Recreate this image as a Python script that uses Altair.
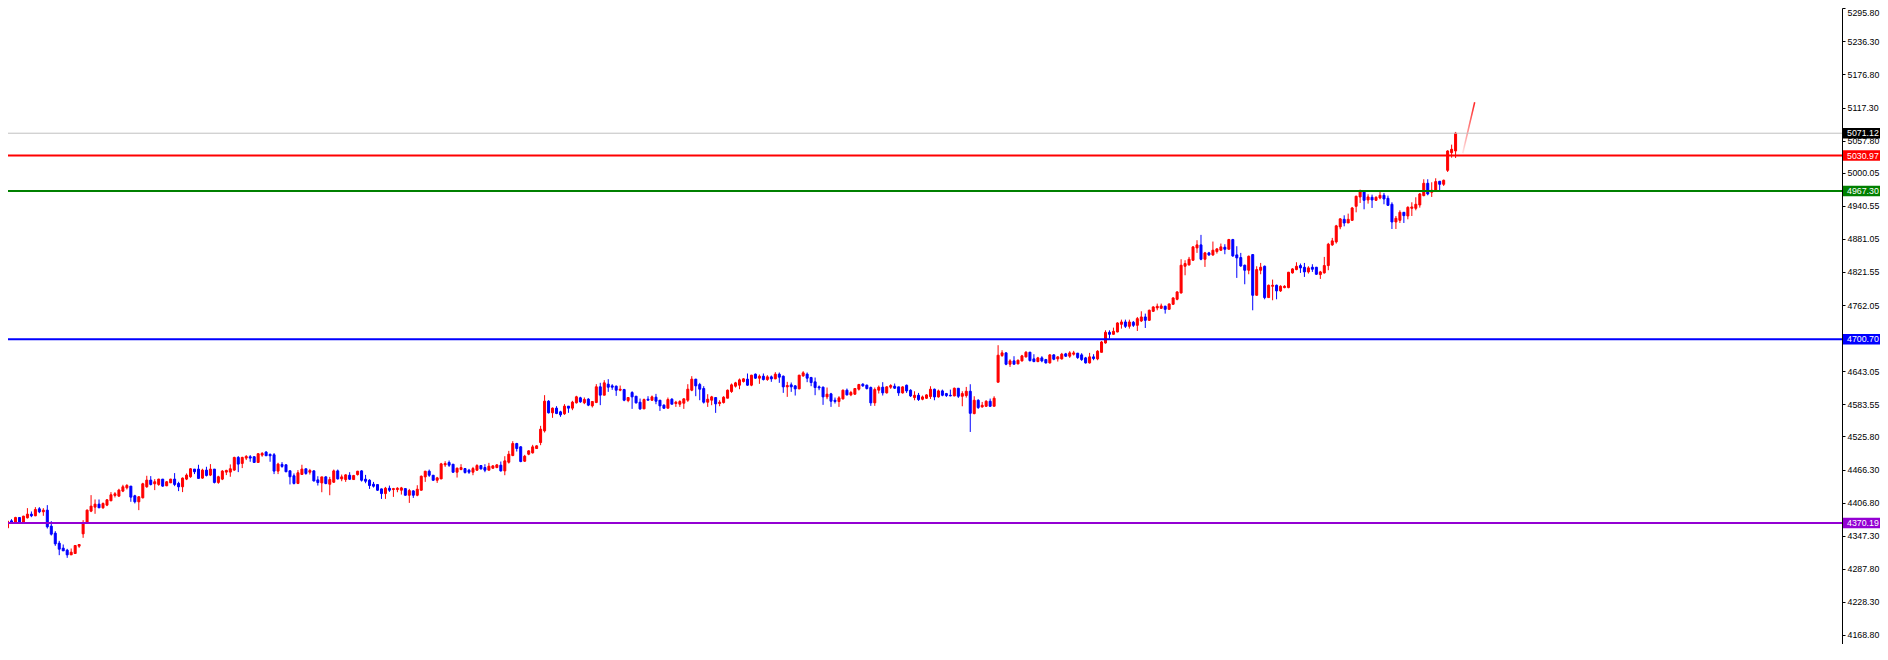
import altair as alt
import pandas as pd
import numpy as np

# ---- candle data ----
opens = [
4361.5, 4374.1, 4371.1, 4380.1, 4371.1, 4379.5, 4386.1, 4383.1, 4395.7, 4390.3,
4393.3, 4364.5, 4351.9, 4333.9, 4324.9, 4321.3, 4312.9, 4315.3, 4328.5, 4350.7,
4370.5, 4391.5, 4398.7, 4404.1, 4397.5, 4402.3, 4410.1, 4419.7, 4418.5, 4427.5,
4433.5, 4436.5, 4419.1, 4408.3, 4415.5, 4435.3, 4447.3, 4440.7, 4439.5, 4449.1,
4437.1, 4442.5, 4449.1, 4441.3, 4435.3, 4449.1, 4453.3, 4467.1, 4467.1, 4450.9,
4465.3, 4456.3, 4467.1, 4443.1, 4449.1, 4461.7, 4461.7, 4465.3, 4488.1, 4477.3,
4486.9, 4489.3, 4489.3, 4479.1, 4492.3, 4497.7, 4493.5, 4492.9, 4463.5, 4475.5,
4474.9, 4464.1, 4455.1, 4441.3, 4457.5, 4467.7, 4461.5, 4463.9, 4447.7, 4442.3,
4453.1, 4439.9, 4443.5, 4463.9, 4449.5, 4448.3, 4456.1, 4448.3, 4457.3, 4463.9,
4448.9, 4447.1, 4439.9, 4439.3, 4431.5, 4423.1, 4432.7, 4430.3, 4430.3, 4429.1,
4432.1, 4420.1, 4427.9, 4420.1, 4429.1, 4453.1, 4463.3, 4456.1, 4447.1, 4449.5,
4474.7, 4478.9, 4475.9, 4461.5, 4466.3, 4468.1, 4465.1, 4461.5, 4465.1, 4473.5,
4469.9, 4465.1, 4468.7, 4469.9, 4474.1, 4463.9, 4479.5, 4491.5, 4513.1, 4507.1,
4481.3, 4493.9, 4496.3, 4504.1, 4514.9, 4535.9, 4589.3, 4568.3, 4576.7, 4570.1,
4566.5, 4580.3, 4576.7, 4586.3, 4595.3, 4586.3, 4592.9, 4580.9, 4586.9, 4615.1,
4600.0, 4619.8, 4616.8, 4616.2, 4609.0, 4610.2, 4590.4, 4604.8, 4598.2, 4587.4,
4575.4, 4592.8, 4591.0, 4596.4, 4591.0, 4582.0, 4576.6, 4592.8, 4585.0, 4583.8,
4585.6, 4591.0, 4609.0, 4628.8, 4619.2, 4612.0, 4587.4, 4591.0, 4595.8, 4585.0,
4586.8, 4594.6, 4606.6, 4616.2, 4618.0, 4624.6, 4628.8, 4618.0, 4637.8, 4630.6,
4634.2, 4628.2, 4633.0, 4629.4, 4637.8, 4634.2, 4615.0, 4618.6, 4616.8, 4611.4,
4634.8, 4637.8, 4631.8, 4624.0, 4615.0, 4614.4, 4597.0, 4602.4, 4591.0, 4588.6,
4593.4, 4609.0, 4600.6, 4601.8, 4610.8, 4619.8, 4618.0, 4613.8, 4586.2, 4609.0,
4614.4, 4604.2, 4614.4, 4616.2, 4615.0, 4604.1, 4617.9, 4608.9, 4595.7, 4599.9,
4592.7, 4594.5, 4597.5, 4610.7, 4596.9, 4607.7, 4602.9, 4599.9, 4598.7, 4612.5,
4598.1, 4599.3, 4607.1, 4566.9, 4590.9, 4578.9, 4580.1, 4589.1, 4580.1, 4623.3,
4671.3, 4676.1, 4655.7, 4661.7, 4656.3, 4661.7, 4668.9, 4677.3, 4665.3, 4660.5,
4667.1, 4664.1, 4658.1, 4672.5, 4665.3, 4665.3, 4674.3, 4670.1, 4673.7, 4675.5,
4672.5, 4667.1, 4658.1, 4668.9, 4665.3, 4677.1, 4693.9, 4713.1, 4709.5, 4713.7,
4727.5, 4731.7, 4723.9, 4731.1, 4725.7, 4733.5, 4740.7, 4734.7, 4750.9, 4756.9,
4756.3, 4759.9, 4754.5, 4763.5, 4772.5, 4783.9, 4831.9, 4834.3, 4842.7, 4864.9,
4870.3, 4844.5, 4855.9, 4852.3, 4858.3, 4860.7, 4866.1, 4862.5, 4879.9, 4852.3,
4847.5, 4833.7, 4824.7, 4852.9, 4779.7, 4824.7, 4831.9, 4775.5, 4795.9, 4797.7,
4787.5, 4793.5, 4793.5, 4819.9, 4825.9, 4833.1, 4830.1, 4821.7, 4830.1, 4830.1,
4816.9, 4819.9, 4833.1, 4870.3, 4875.7, 4902.7, 4916.3, 4909.7, 4914.5, 4939.7,
4956.5, 4965.5, 4951.1, 4955.9, 4950.5, 4954.7, 4959.5, 4954.1, 4943.3, 4911.5,
4914.5, 4928.9, 4922.3, 4936.1, 4936.1, 4942.1, 4958.9, 4981.1, 4964.9, 4967.9,
4984.7, 4979.3, 5004.4, 5036.2, 5039.2]

highs = [
4375.3, 4377.1, 4381.3, 4380.7, 4383.1, 4396.9, 4390.9, 4398.7, 4398.7, 4396.9,
4402.3, 4373.5, 4355.5, 4338.1, 4331.5, 4323.7, 4324.3, 4330.3, 4331.5, 4375.3,
4394.5, 4420.3, 4412.5, 4412.5, 4407.1, 4413.1, 4425.7, 4425.7, 4431.7, 4438.9,
4440.1, 4436.5, 4420.9, 4418.5, 4442.5, 4455.1, 4454.5, 4449.1, 4449.7, 4449.1,
4445.5, 4449.7, 4459.9, 4444.3, 4452.1, 4459.3, 4468.9, 4467.1, 4474.9, 4467.7,
4471.3, 4476.1, 4467.1, 4455.1, 4465.3, 4465.9, 4475.5, 4489.3, 4490.5, 4489.3,
4492.3, 4492.3, 4490.5, 4495.9, 4497.7, 4499.5, 4495.3, 4495.9, 4478.5, 4479.7,
4474.9, 4464.1, 4459.3, 4465.3, 4474.9, 4467.7, 4467.5, 4465.1, 4454.3, 4453.1,
4454.3, 4453.1, 4466.3, 4466.3, 4457.3, 4457.9, 4461.5, 4456.7, 4463.9, 4465.1,
4456.7, 4448.9, 4444.1, 4439.9, 4432.1, 4435.1, 4437.5, 4433.3, 4434.5, 4435.1,
4432.1, 4431.5, 4429.1, 4438.1, 4455.5, 4463.9, 4466.3, 4456.1, 4453.1, 4478.3,
4481.3, 4482.5, 4475.9, 4469.9, 4475.9, 4468.7, 4467.5, 4471.1, 4475.9, 4474.1,
4475.9, 4478.3, 4474.1, 4475.9, 4480.7, 4490.3, 4499.9, 4517.3, 4514.3, 4508.3,
4492.7, 4501.1, 4510.7, 4510.1, 4544.9, 4600.1, 4591.1, 4577.9, 4580.3, 4571.9,
4583.9, 4580.3, 4589.9, 4598.9, 4597.1, 4595.9, 4594.7, 4588.7, 4619.9, 4622.3,
4627.0, 4628.8, 4619.8, 4617.4, 4617.4, 4611.4, 4595.8, 4607.2, 4598.2, 4594.0,
4594.0, 4598.2, 4599.4, 4602.4, 4591.0, 4583.8, 4595.8, 4594.6, 4589.8, 4591.0,
4594.6, 4619.8, 4634.2, 4629.4, 4622.2, 4616.2, 4601.8, 4598.8, 4595.8, 4591.0,
4598.2, 4610.2, 4621.0, 4624.0, 4630.0, 4630.6, 4639.0, 4636.6, 4639.0, 4637.2,
4639.0, 4636.0, 4635.4, 4641.4, 4640.8, 4635.4, 4624.0, 4622.8, 4618.0, 4636.6,
4643.2, 4640.8, 4633.0, 4631.8, 4617.4, 4615.6, 4613.8, 4604.2, 4595.8, 4598.2,
4610.2, 4612.0, 4607.8, 4612.6, 4620.4, 4621.6, 4619.2, 4615.6, 4613.8, 4617.4,
4623.4, 4616.2, 4619.8, 4621.0, 4615.0, 4616.1, 4619.1, 4610.7, 4607.1, 4604.1,
4599.3, 4601.7, 4616.1, 4611.9, 4610.1, 4610.1, 4604.1, 4610.1, 4613.7, 4612.5,
4607.1, 4614.9, 4619.7, 4598.1, 4592.7, 4587.9, 4590.9, 4593.9, 4598.1, 4689.9,
4680.9, 4677.3, 4664.7, 4670.1, 4664.1, 4672.5, 4679.1, 4677.9, 4673.7, 4668.9,
4670.1, 4665.3, 4673.7, 4673.7, 4670.1, 4676.1, 4676.1, 4679.1, 4679.7, 4676.1,
4675.5, 4668.9, 4676.1, 4673.7, 4680.9, 4697.5, 4716.7, 4716.7, 4721.5, 4731.1,
4735.9, 4735.9, 4735.9, 4733.5, 4740.7, 4750.9, 4746.7, 4753.9, 4759.9, 4764.7,
4764.7, 4761.1, 4764.7, 4776.1, 4786.9, 4844.5, 4842.7, 4848.7, 4867.9, 4878.7,
4888.3, 4857.7, 4857.7, 4876.3, 4864.3, 4872.7, 4871.5, 4881.1, 4881.1, 4867.9,
4855.9, 4834.9, 4851.1, 4853.5, 4831.9, 4837.9, 4833.1, 4798.9, 4807.9, 4798.9,
4797.7, 4797.7, 4821.7, 4828.3, 4839.1, 4836.7, 4837.9, 4831.9, 4835.5, 4830.7,
4823.5, 4848.7, 4873.9, 4882.9, 4906.3, 4918.3, 4923.5, 4926.5, 4938.5, 4958.9,
4969.7, 4965.5, 4961.3, 4960.7, 4957.7, 4966.7, 4963.7, 4958.9, 4946.9, 4922.3,
4932.5, 4929.5, 4939.7, 4946.9, 4955.9, 4963.7, 4988.3, 4988.3, 4982.9, 4990.1,
4985.3, 4987.7, 5040.4, 5050.6, 5073.4]

lows = [
4359.7, 4369.9, 4370.5, 4370.5, 4370.5, 4378.3, 4380.7, 4382.5, 4387.9, 4383.1,
4360.3, 4347.7, 4329.1, 4312.3, 4320.1, 4307.5, 4312.9, 4314.7, 4325.5, 4343.5,
4369.3, 4389.7, 4386.7, 4397.5, 4395.7, 4400.5, 4409.5, 4416.1, 4417.3, 4425.7,
4430.5, 4408.3, 4405.3, 4393.3, 4414.3, 4433.5, 4437.7, 4429.3, 4437.1, 4435.3,
4436.5, 4441.9, 4436.5, 4427.5, 4425.7, 4447.3, 4451.5, 4458.1, 4449.7, 4449.7,
4453.9, 4454.5, 4441.3, 4440.7, 4447.3, 4456.3, 4453.3, 4464.1, 4461.7, 4468.9,
4483.3, 4480.3, 4478.5, 4478.5, 4489.3, 4491.1, 4480.3, 4458.1, 4458.1, 4469.5,
4461.7, 4439.5, 4439.5, 4440.1, 4456.9, 4456.9, 4457.3, 4444.7, 4437.5, 4425.5,
4439.9, 4420.1, 4442.3, 4448.3, 4445.3, 4444.1, 4447.7, 4447.7, 4455.5, 4444.7,
4441.7, 4431.5, 4433.9, 4427.9, 4413.5, 4413.5, 4426.1, 4417.1, 4425.5, 4421.3,
4419.5, 4406.3, 4415.3, 4418.3, 4428.5, 4444.1, 4453.1, 4445.9, 4442.3, 4448.9,
4471.1, 4471.1, 4460.3, 4451.9, 4465.1, 4459.1, 4458.5, 4456.1, 4463.9, 4466.3,
4461.5, 4465.1, 4467.5, 4468.7, 4462.7, 4456.1, 4477.1, 4490.3, 4498.7, 4479.5,
4480.1, 4492.1, 4495.1, 4503.5, 4510.1, 4532.9, 4567.1, 4559.3, 4565.9, 4561.1,
4564.7, 4568.3, 4573.1, 4585.1, 4586.3, 4583.9, 4580.3, 4577.9, 4585.7, 4582.1,
4600.0, 4606.0, 4609.6, 4598.8, 4607.2, 4589.2, 4587.4, 4575.4, 4585.0, 4573.6,
4575.4, 4591.0, 4589.8, 4583.8, 4571.8, 4575.4, 4576.6, 4583.8, 4579.0, 4579.0,
4575.4, 4588.0, 4607.2, 4598.2, 4591.0, 4585.0, 4579.0, 4582.0, 4568.2, 4580.2,
4585.0, 4594.6, 4604.2, 4613.8, 4610.8, 4622.8, 4616.8, 4616.2, 4629.4, 4620.4,
4626.4, 4625.8, 4624.0, 4628.8, 4622.2, 4604.2, 4597.0, 4606.0, 4599.4, 4610.8,
4633.0, 4623.4, 4616.2, 4600.0, 4609.0, 4582.6, 4592.8, 4579.0, 4585.0, 4579.0,
4592.2, 4599.4, 4598.2, 4600.6, 4608.4, 4615.0, 4610.2, 4580.8, 4580.8, 4603.0,
4599.4, 4603.0, 4611.4, 4611.4, 4598.8, 4602.9, 4604.1, 4596.9, 4590.9, 4589.7,
4590.9, 4593.3, 4593.3, 4590.9, 4595.7, 4598.1, 4596.9, 4598.1, 4598.1, 4595.1,
4580.1, 4595.7, 4533.9, 4565.7, 4575.3, 4577.7, 4578.9, 4578.9, 4580.1, 4623.3,
4668.9, 4653.9, 4650.9, 4655.7, 4655.7, 4660.5, 4667.7, 4660.5, 4659.3, 4659.3,
4659.3, 4656.9, 4656.9, 4662.9, 4660.5, 4664.1, 4668.9, 4667.1, 4671.3, 4665.3,
4661.7, 4656.9, 4656.9, 4662.9, 4662.9, 4677.1, 4692.7, 4701.7, 4708.9, 4713.1,
4719.7, 4720.9, 4719.7, 4722.7, 4715.5, 4731.7, 4720.9, 4733.5, 4749.7, 4752.7,
4755.1, 4746.7, 4753.9, 4762.3, 4770.7, 4782.7, 4815.7, 4833.1, 4841.5, 4855.9,
4842.7, 4830.7, 4850.5, 4850.5, 4854.7, 4859.5, 4853.5, 4861.9, 4848.7, 4810.9,
4830.7, 4799.5, 4817.5, 4752.7, 4779.1, 4817.5, 4772.5, 4775.5, 4770.7, 4772.5,
4785.7, 4792.3, 4792.3, 4818.7, 4824.7, 4819.9, 4812.7, 4818.7, 4821.7, 4816.3,
4809.1, 4818.7, 4824.7, 4868.5, 4872.7, 4898.5, 4903.7, 4909.7, 4913.3, 4928.9,
4945.7, 4934.3, 4944.5, 4936.7, 4949.3, 4952.3, 4943.3, 4940.9, 4898.9, 4898.9,
4909.7, 4909.7, 4916.3, 4922.3, 4932.5, 4937.3, 4957.7, 4959.5, 4956.5, 4966.1,
4968.5, 4976.3, 5001.4, 5027.2, 5026.6]

closes = [
4373.5, 4371.1, 4380.1, 4371.1, 4382.5, 4386.1, 4383.1, 4394.5, 4390.3, 4393.3,
4363.3, 4350.1, 4332.7, 4323.1, 4320.1, 4312.9, 4317.7, 4329.7, 4331.5, 4369.3,
4393.3, 4400.5, 4404.1, 4397.5, 4405.3, 4411.9, 4420.9, 4422.7, 4429.3, 4435.3,
4437.7, 4416.7, 4408.3, 4417.3, 4440.7, 4447.3, 4439.5, 4444.3, 4449.1, 4436.5,
4444.3, 4449.1, 4439.5, 4435.3, 4450.9, 4456.3, 4467.7, 4462.3, 4450.3, 4465.3,
4455.7, 4467.1, 4443.1, 4453.3, 4463.5, 4464.7, 4467.7, 4488.1, 4476.1, 4488.1,
4489.9, 4486.9, 4479.1, 4494.7, 4495.3, 4491.1, 4491.1, 4463.5, 4476.1, 4471.9,
4462.3, 4453.3, 4441.3, 4460.5, 4467.1, 4459.3, 4464.5, 4445.9, 4442.9, 4453.1,
4441.1, 4448.3, 4463.9, 4449.5, 4453.1, 4456.7, 4448.9, 4455.5, 4463.3, 4447.1,
4445.3, 4437.5, 4436.3, 4429.1, 4423.1, 4432.7, 4429.1, 4432.1, 4432.7, 4433.3,
4420.1, 4428.5, 4420.1, 4430.9, 4454.3, 4463.3, 4456.1, 4447.1, 4451.3, 4476.5,
4477.1, 4474.1, 4461.5, 4468.7, 4469.9, 4460.9, 4461.5, 4468.1, 4473.5, 4467.5,
4465.1, 4472.3, 4472.9, 4474.7, 4463.9, 4481.9, 4493.9, 4513.1, 4504.1, 4480.7,
4490.3, 4499.9, 4507.1, 4508.9, 4538.9, 4589.3, 4568.3, 4576.7, 4567.1, 4564.7,
4580.3, 4576.7, 4587.5, 4597.1, 4588.1, 4592.3, 4582.1, 4588.7, 4615.1, 4600.1,
4622.2, 4614.4, 4614.4, 4609.0, 4610.8, 4591.0, 4595.8, 4597.0, 4586.2, 4575.4,
4592.2, 4591.0, 4597.0, 4589.2, 4580.8, 4576.6, 4592.2, 4583.8, 4587.4, 4588.6,
4593.4, 4610.8, 4628.8, 4616.8, 4610.8, 4587.4, 4592.8, 4597.0, 4584.4, 4587.4,
4596.4, 4609.0, 4618.6, 4622.2, 4627.6, 4629.4, 4618.0, 4636.0, 4630.6, 4634.2,
4628.2, 4633.0, 4629.4, 4637.8, 4632.4, 4615.0, 4617.4, 4615.0, 4611.4, 4636.0,
4640.2, 4630.6, 4622.8, 4613.8, 4613.2, 4597.0, 4601.8, 4589.2, 4588.6, 4595.2,
4609.0, 4600.6, 4604.8, 4612.0, 4619.2, 4616.8, 4612.0, 4586.2, 4610.2, 4614.4,
4604.2, 4615.0, 4617.4, 4612.6, 4604.2, 4614.9, 4607.7, 4598.7, 4599.9, 4592.1,
4596.9, 4600.5, 4610.7, 4596.9, 4607.7, 4599.9, 4599.3, 4598.7, 4612.5, 4598.1,
4602.9, 4607.1, 4567.5, 4590.9, 4577.7, 4581.9, 4589.1, 4580.1, 4594.5, 4671.9,
4676.1, 4655.7, 4661.7, 4655.7, 4662.9, 4670.7, 4677.3, 4662.3, 4660.5, 4667.1,
4661.7, 4658.1, 4672.5, 4664.7, 4668.9, 4673.7, 4670.1, 4676.1, 4676.1, 4667.7,
4664.1, 4658.1, 4668.9, 4665.9, 4679.1, 4695.7, 4713.1, 4709.5, 4714.9, 4729.9,
4731.7, 4723.9, 4731.7, 4725.7, 4737.7, 4740.7, 4734.7, 4752.7, 4758.7, 4759.9,
4760.5, 4754.5, 4764.1, 4774.9, 4785.7, 4833.7, 4836.7, 4844.5, 4866.7, 4870.3,
4844.5, 4855.9, 4852.3, 4860.7, 4863.1, 4866.7, 4862.5, 4879.9, 4850.5, 4846.9,
4832.5, 4824.7, 4849.9, 4779.7, 4825.9, 4830.1, 4775.5, 4797.7, 4797.7, 4787.5,
4795.9, 4795.9, 4821.1, 4827.1, 4831.9, 4828.9, 4821.7, 4828.9, 4826.5, 4817.5,
4821.7, 4833.1, 4871.5, 4877.5, 4904.5, 4917.1, 4909.7, 4916.3, 4936.7, 4957.7,
4965.5, 4950.5, 4956.5, 4951.1, 4955.9, 4959.5, 4952.9, 4941.5, 4911.5, 4918.1,
4928.9, 4922.9, 4937.9, 4938.5, 4943.3, 4961.9, 4981.1, 4961.9, 4968.5, 4984.1,
4979.3, 4986.5, 5039.2, 5042.2, 5071.12]

# ---- horizontal price levels ----
level_prices = [5071.12, 5030.97, 4967.30, 4700.70, 4370.19]
level_labels = ["5071.12", "5030.97", "4967.30", "4700.70", "4370.19"]

# ---- axis tick values ----
tick_values = [5295.80, 5236.30, 5176.80, 5117.30, 5057.80, 5000.05, 4940.55,
               4881.05, 4821.55, 4762.05, 4702.55, 4643.05, 4583.55, 4525.80,
               4466.30, 4406.80, 4347.30, 4287.80, 4228.30, 4168.80]

# ---- faint trend line at the end ----
trend_idx = [365.8, 368.8]
trend_price = [5035.1, 5126.8]

# ---- styles ----
line_colors = ["#c0c0c0", "#ff0000", "#008000", "#0000ff", "#9400d3"]
box_colors = ["#000000", "#ff0000", "#008000", "#0000ff", "#9400d3"]
line_widths = [1, 2, 2, 2, 2]
UP, DOWN = "#ff0000", "#0000ff"
FONT = "Liberation Sans"
FS = 8.8

PLOT_W, PLOT_H = 1834, 636
UNITS_PER_PX = 1.7983
Y_TOP = 5296.3
Y_DOMAIN = [Y_TOP - PLOT_H * UNITS_PER_PX, Y_TOP]
X_DOMAIN = [1.375, 1.375 + PLOT_W / 4]

n = len(opens)
candles = pd.DataFrame({
    "i": np.arange(n), "open": opens, "high": highs, "low": lows, "close": closes,
})
candles["dir"] = np.where(np.array(closes) >= np.array(opens), "up", "down")

levels = pd.DataFrame({
    "price": level_prices, "label": level_labels,
    "lcolor": line_colors, "bcolor": box_colors, "w": line_widths,
})
trend = pd.DataFrame({"i": trend_idx, "p": trend_price})

xs = alt.Scale(domain=X_DOMAIN, nice=False, zero=False)
ys = alt.Scale(domain=Y_DOMAIN, nice=False, zero=False)
cs = alt.Scale(domain=["up", "down"], range=[UP, DOWN])

yax = alt.Axis(orient="right", values=tick_values, format=".2f", title=None,
               grid=False, domain=True, domainColor="#000000", domainWidth=1,
               ticks=True, tickColor="#000000", tickSize=3, tickWidth=1,
               labelFont=FONT, labelFontSize=FS, labelColor="#000000",
               labelPadding=2, labelOverlap=False, labelFlush=False,
               labelBound=False,
               labelBaseline={"condition": {"test": "datum.value > 5290",
                                            "value": "top"},
                              "value": "middle"})

X = alt.X("i:Q", scale=xs, axis=None)

wicks = alt.Chart(candles).mark_rule(strokeWidth=1).encode(
    x=X,
    y=alt.Y("low:Q", scale=ys, axis=yax),
    y2="high:Q",
    color=alt.Color("dir:N", scale=cs, legend=None),
)

bodies = alt.Chart(candles).mark_bar(size=2, strokeWidth=1, orient="vertical").encode(
    x=X,
    y=alt.Y("open:Q", scale=ys, axis=yax),
    y2="close:Q",
    color=alt.Color("dir:N", scale=cs, legend=None),
    stroke=alt.Stroke("dir:N", scale=cs, legend=None),
)

trend_line = alt.Chart(trend).mark_line(
    strokeWidth=1.5,
    color=alt.Gradient(
        gradient="linear",
        stops=[alt.GradientStop(color="#ffe6e6", offset=0),
               alt.GradientStop(color="#ff2020", offset=1)],
        x1=0, x2=0, y1=1, y2=0),
).encode(
    x=X,
    y=alt.Y("p:Q", scale=ys, axis=yax),
)

rules = alt.Chart(levels).mark_rule().encode(
    y=alt.Y("price:Q", scale=ys, axis=yax),
    color=alt.Color("lcolor:N", scale=None),
    strokeWidth=alt.StrokeWidth("w:Q", scale=None),
)

boxes = alt.Chart(levels).transform_calculate(
    lo="datum.price - 9.5", hi="datum.price + 9.5"
).mark_rect().encode(
    x=alt.value(PLOT_W + 1),
    x2=alt.value(PLOT_W + 42),
    y=alt.Y("lo:Q", scale=ys, axis=yax),
    y2="hi:Q",
    color=alt.Color("bcolor:N", scale=None),
)

box_text = alt.Chart(levels).mark_text(
    align="left", baseline="middle", font=FONT, fontSize=FS, color="#ffffff"
).encode(
    x=alt.value(PLOT_W + 5),
    y=alt.Y("price:Q", scale=ys, axis=yax),
    text="label:N",
)

chart = alt.layer(wicks, bodies, trend_line, rules, boxes, box_text).properties(
    width=PLOT_W, height=PLOT_H,
    autosize=alt.AutoSizeParams(type="none"),
    padding={"left": 0, "top": 0, "right": 38, "bottom": 0},
    background="#ffffff",
).configure_view(strokeWidth=0)

chart.save("out.html", embed_options={"renderer": "svg", "actions": False})
